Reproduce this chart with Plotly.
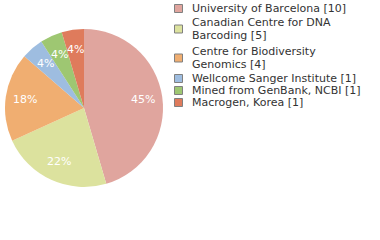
import math
import textwrap
import plotly.graph_objects as go

labels = ["University of Barcelona", "Canadian Centre for DNA Barcoding",
          "Centre for Biodiversity Genomics", "Wellcome Sanger Institute",
          "Mined from GenBank, NCBI", "Macrogen, Korea"]
values = [10, 5, 4, 1, 1, 1]
colors = ["#e0a59e", "#dce29e", "#f0ae71", "#9ebde0", "#9ec772", "#df7b5c"]

W, H = 380, 240
CX, CY, R = 84, 108, 79  # pie centre / radius in pixels

fig = go.Figure(go.Pie(
    labels=labels, values=values, sort=False, direction="clockwise",
    rotation=0, marker=dict(colors=colors, line=dict(width=0)),
    textinfo="none", showlegend=False, hoverinfo="label+value+percent",
    domain=dict(x=[(CX - R) / W, (CX + R) / W], y=[1 - (CY + R) / H, 1 - (CY - R) / H]),
))

total = sum(values)
annotations = []
shapes = []
cum = 0
for v in values:
    mid = (cum + v / 2) / total * 2 * math.pi
    cum += v
    px = CX + 0.75 * R * math.sin(mid)
    py = CY - 0.75 * R * math.cos(mid)
    annotations.append(dict(
        x=px / W, y=1 - py / H, xref="paper", yref="paper",
        text=f"{int(v / total * 100)}%", showarrow=False,
        xanchor="center", yanchor="middle",
        font=dict(family="DejaVu Sans", size=11, color="white")))

# legend
ITEM, EXTRA, LS = 12, 5, 12.5
top = 2.5
for lab, v, c in zip(labels, values, colors):
    lines = textwrap.wrap(f"{lab} [{v}]", 29)
    n = len(lines)
    h = n * ITEM + EXTRA * (n - 1)
    ym = top + h / 2
    for j, ln in enumerate(lines):
        yc = ym + LS * (j - (n - 1) / 2)
        annotations.append(dict(
            x=191 / W, y=1 - yc / H, xref="paper", yref="paper", text=ln,
            showarrow=False, xanchor="left", yanchor="middle", borderpad=0,
            font=dict(family="DejaVu Sans", size=11, color="#333333")))
    shapes.append(dict(type="rect", xref="paper", yref="paper",
                       x0=174.5 / W, x1=182.5 / W,
                       y0=1 - (ym - 4) / H, y1=1 - (ym + 4) / H,
                       fillcolor=c, line=dict(color="#808080", width=1)))
    top += h

fig.update_layout(width=W, height=H, margin=dict(l=0, r=0, t=0, b=0),
                  paper_bgcolor="white", plot_bgcolor="white",
                  annotations=annotations, shapes=shapes)
fig.write_html("out.html")
